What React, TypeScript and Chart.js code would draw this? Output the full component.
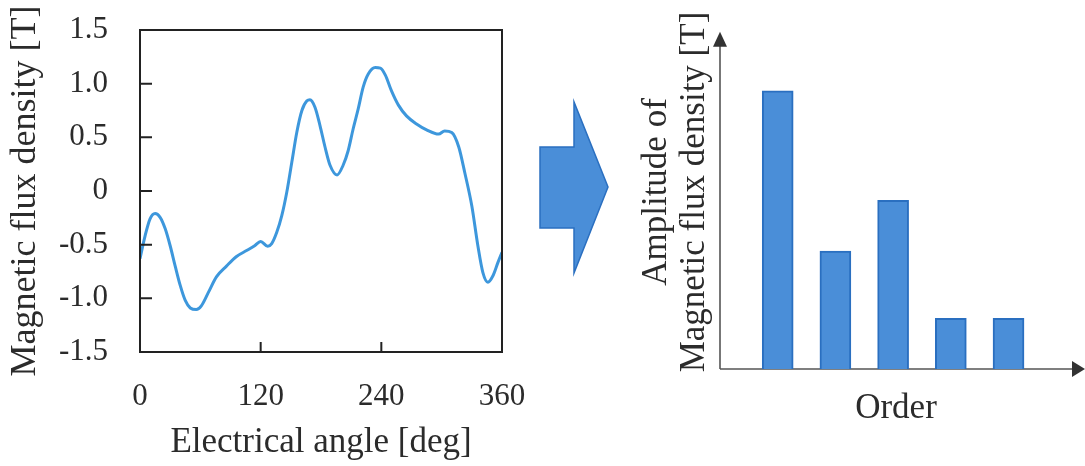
import React, { useEffect, useRef } from 'react';
import { Chart, registerables } from 'chart.js';

Chart.register(...registerables);

// ---- Data ----
const angleDeg = [0, 5, 10, 15, 20, 25, 30, 35, 40, 45, 50, 56, 61, 68, 76, 86, 96, 106, 114, 120, 127, 131, 136, 141, 146, 151, 156, 161, 166, 169, 174, 179, 184, 189, 196, 202, 207, 212, 217, 222, 227, 234, 239, 244, 250, 257, 265, 275, 285, 297, 303, 310, 317, 323, 330, 336, 341, 346, 351, 356, 360];
const fluxDensity = [-0.63, -0.42, -0.26, -0.21, -0.245, -0.35, -0.51, -0.7, -0.88, -1.02, -1.09, -1.105, -1.07, -0.945, -0.8, -0.7, -0.61, -0.555, -0.51, -0.47, -0.515, -0.49, -0.385, -0.23, -0.01, 0.27, 0.55, 0.75, 0.84, 0.85, 0.78, 0.61, 0.41, 0.24, 0.15, 0.24, 0.375, 0.58, 0.765, 0.97, 1.09, 1.15, 1.145, 1.08, 0.935, 0.8, 0.7, 0.625, 0.57, 0.53, 0.56, 0.545, 0.41, 0.17, -0.14, -0.51, -0.76, -0.85, -0.79, -0.665, -0.57];

const orders = [1, 2, 3, 4, 5];
const amplitudes = [0.825, 0.35, 0.5, 0.15, 0.15];

const FONT = "'Liberation Serif', 'Times New Roman', serif";
const TEXT = '#2b2b2b';
const LINE_BLUE = '#3d97dc';
const BAR_FILL = '#4a8ed8';
const BAR_EDGE = '#2a6fc0';

const boxPlugin = {
  id: 'boxAndInnerTicks',
  afterDraw(chart: any) {
    const { ctx, chartArea, scales } = chart;
    ctx.save();
    ctx.strokeStyle = '#222';
    ctx.lineWidth = 2;
    ctx.strokeRect(chartArea.left, chartArea.top, chartArea.right - chartArea.left, chartArea.bottom - chartArea.top);
    ctx.beginPath();
    scales.y.ticks.forEach((t: any) => {
      const y = scales.y.getPixelForValue(t.value);
      ctx.moveTo(chartArea.left, y);
      ctx.lineTo(chartArea.left + 12, y);
    });
    scales.x.ticks.forEach((t: any) => {
      const x = scales.x.getPixelForValue(t.value);
      ctx.moveTo(x, chartArea.bottom);
      ctx.lineTo(x, chartArea.bottom - 10);
    });
    ctx.stroke();
    ctx.restore();
  },
};

const axesArrowPlugin = {
  id: 'axesArrows',
  beforeDatasetsDraw(chart: any) {
    const { ctx, chartArea, scales } = chart;
    const x0 = chartArea.left;
    const y0 = chartArea.bottom;
    const tipY = scales.y.getPixelForValue(1.0);
    const right = chartArea.right;
    ctx.save();
    ctx.strokeStyle = '#555';
    ctx.lineWidth = 1.6;
    ctx.beginPath();
    ctx.moveTo(x0, y0);
    ctx.lineTo(x0, tipY + 12);
    ctx.moveTo(x0, y0);
    ctx.lineTo(right, y0);
    ctx.stroke();
    ctx.fillStyle = '#333';
    ctx.beginPath();
    ctx.moveTo(x0, tipY);
    ctx.lineTo(x0 - 7, tipY + 15);
    ctx.lineTo(x0 + 7, tipY + 15);
    ctx.closePath();
    ctx.fill();
    ctx.beginPath();
    ctx.moveTo(right + 13, y0);
    ctx.lineTo(right, y0 - 8);
    ctx.lineTo(right, y0 + 8);
    ctx.closePath();
    ctx.fill();
    ctx.restore();
  },
  afterDraw(chart: any) {
    // big transition arrow between the two plots
    const { ctx } = chart;
    ctx.save();
    ctx.fillStyle = BAR_FILL;
    ctx.strokeStyle = BAR_EDGE;
    ctx.lineWidth = 1.5;
    ctx.beginPath();
    ctx.moveTo(10, 147);
    ctx.lineTo(44, 147);
    ctx.lineTo(44, 102);
    ctx.lineTo(78, 187);
    ctx.lineTo(44, 273);
    ctx.lineTo(44, 228);
    ctx.lineTo(10, 228);
    ctx.closePath();
    ctx.fill();
    ctx.stroke();
    ctx.restore();
  },
};

export default function App() {
  const lineRef = useRef<HTMLCanvasElement>(null);
  const barRef = useRef<HTMLCanvasElement>(null);

  useEffect(() => {
    const lineChart = new Chart(lineRef.current as HTMLCanvasElement, {
      type: 'line',
      data: {
        datasets: [
          {
            data: angleDeg.map((a, i) => ({ x: a, y: fluxDensity[i] })),
            borderColor: LINE_BLUE,
            borderWidth: 3,
            pointRadius: 0,
            tension: 0.4,
            cubicInterpolationMode: 'monotone',
            fill: false,
          },
        ],
      },
      options: {
        responsive: false,
        animation: false,
        layout: { padding: { top: 30, right: 28, left: 0, bottom: 0 } },
        plugins: { legend: { display: false }, tooltip: { enabled: false } },
        scales: {
          x: {
            type: 'linear',
            min: 0,
            max: 360,
            ticks: { stepSize: 120, padding: 26, maxRotation: 0, color: TEXT, font: { size: 31, family: FONT } },
            grid: { display: false, drawTicks: false },
            border: { display: false },
            title: { display: true, text: 'Electrical angle [deg]', color: TEXT, font: { size: 35, family: FONT }, padding: { top: 0, bottom: 2 } },
            afterFit: (s: any) => { s.height = 114; s.paddingLeft = 0; s.paddingRight = 0; },
          },
          y: {
            type: 'linear',
            min: -1.5,
            max: 1.5,
            ticks: {
              stepSize: 0.5,
              padding: 32,
              color: TEXT,
              font: { size: 31, family: FONT },
              callback: (v: any) => (Number(v) === 0 ? '0' : Number(v).toFixed(1)),
            },
            grid: { display: false, drawTicks: false },
            border: { display: false },
            title: { display: true, text: 'Magnetic flux density [T]', color: TEXT, font: { size: 36, family: FONT }, padding: { top: 4, bottom: 0 } },
            afterFit: (s: any) => { s.width = 140; s.paddingTop = 0; s.paddingBottom = 0; },
          },
        },
      } as any,
      plugins: [boxPlugin],
    });

    const barChart = new Chart(barRef.current as HTMLCanvasElement, {
      type: 'bar',
      data: {
        datasets: [
          {
            data: orders.map((o, i) => ({ x: o, y: amplitudes[i] })),
            backgroundColor: BAR_FILL,
            borderColor: BAR_EDGE,
            borderWidth: 2,
            barThickness: 31,
          },
        ],
      },
      options: {
        responsive: false,
        animation: false,
        layout: { padding: { top: 15, right: 13, left: 0, bottom: 0 } },
        plugins: { legend: { display: false }, tooltip: { enabled: false } },
        scales: {
          x: {
            type: 'linear',
            min: 0,
            max: 6.1,
            offset: false,
            ticks: { display: false },
            grid: { display: false, drawTicks: false },
            border: { display: false },
            title: { display: true, text: 'Order', color: TEXT, font: { size: 35, family: FONT }, padding: { top: 0, bottom: 36 } },
            afterFit: (s: any) => { s.height = 97; },
          },
          y: {
            type: 'linear',
            min: 0,
            max: 1.05,
            ticks: { display: false },
            grid: { display: false, drawTicks: false },
            border: { display: false },
            title: {
              display: true,
              text: ['Amplitude of', 'Magnetic flux density [T]'],
              color: TEXT,
              font: { size: 35, family: FONT, lineHeight: 1.09 },
              padding: { top: 108, bottom: 0 },
            },
            afterFit: (s: any) => { s.width = 190; },
          },
        },
      } as any,
      plugins: [axesArrowPlugin],
    });

    return () => {
      lineChart.destroy();
      barChart.destroy();
    };
  }, []);

  return (
    <div style={{ position: 'absolute', left: 0, top: 0, width: 1085, height: 466, background: '#fff' }}>
      <canvas ref={lineRef} width={530} height={466} style={{ position: 'absolute', left: 0, top: 0 }} />
      <canvas ref={barRef} width={555} height={466} style={{ position: 'absolute', left: 530, top: 0 }} />
    </div>
  );
}
